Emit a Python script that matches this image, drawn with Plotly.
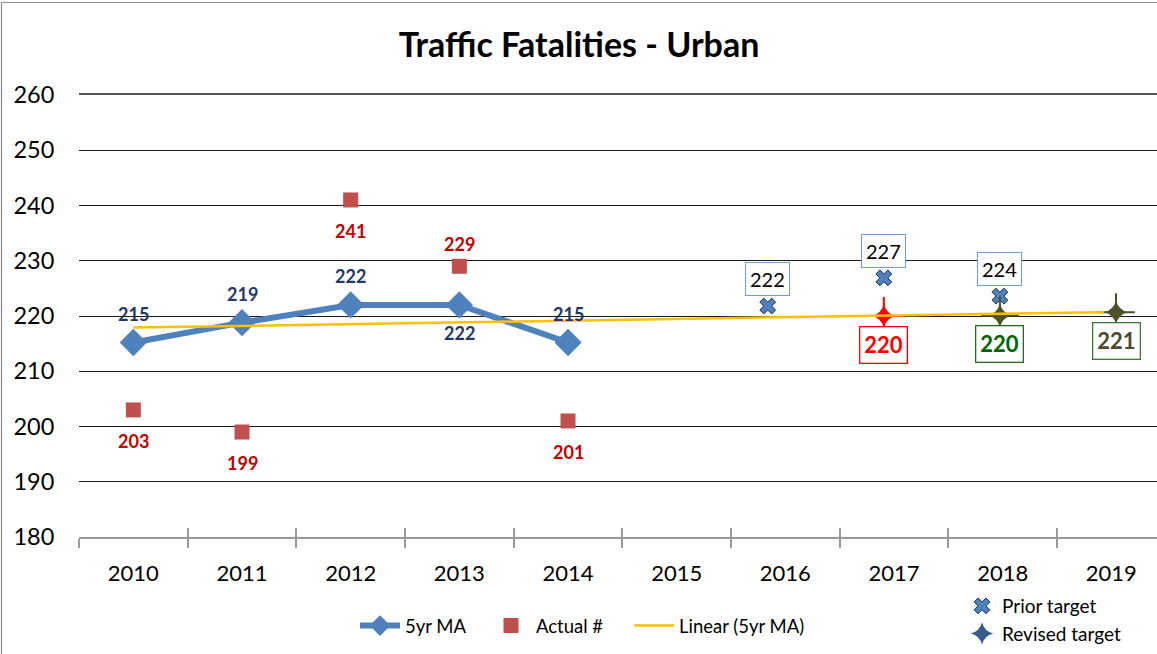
import plotly.graph_objects as go

# ---------------- data ----------------
years = [2010, 2011, 2012, 2013, 2014, 2015, 2016, 2017, 2018, 2019]
ma_years = [2010, 2011, 2012, 2013, 2014]
ma_values = [215.2, 218.8, 222.0, 222.0, 215.2]
actual_values = [203, 199, 241, 229, 201]
trend_years = [2010, 2018.93]
trend_values = [217.9, 220.7]
prior_years = [2016, 2017, 2018]
prior_values = [221.8, 226.9, 223.6]
revised_years = [2017, 2018, 2019]
revised_values = [220.0, 220.1, 220.7]

# label placement / styles
ma_label_pos = ["above", "above", "above", "below", "above"]
actual_label_pos = ["below", "below", "below", "above", "below"]
revised_marker_colors = ["#ff0000", "#4f5228", "#4f5228"]
revised_text_colors = ["#ff0000", "#006400", "#4a4a2e"]
revised_border_colors = ["#ff0000", "#1e6e1e", "#3c7a3c"]

FONT = "Lato, Carlito, 'Open Sans', sans-serif"
W, H = 1157, 654
L, T, B = 79, 95, 117
plot_w = W - L
plot_h = H - T - B
px_per_year = 108.67
x_range = [2009.5, 2009.5 + plot_w / px_per_year]
x2_px_per_year = 116.1
x2_start = 2010.068
x2_range = [x2_start, x2_start + plot_w / x2_px_per_year]
boundaries = [y - 0.5 for y in years] + [years[-1] + 0.5]


def px_x(px):
    return (px - L) / plot_w


def px_y(py):
    return (H - B - py) / plot_h


fig = go.Figure()

fig.add_trace(go.Scatter(
    x=ma_years, y=ma_values, mode="lines+markers", name="5yr MA",
    line=dict(color="#4f81bd", width=6),
    marker=dict(symbol="diamond", size=21, color="#4f81bd"),
    legend="legend", xaxis="x", yaxis="y"))

fig.add_trace(go.Scatter(
    x=ma_years, y=actual_values, mode="markers", name="Actual #",
    marker=dict(symbol="square", size=15, color="#c0504d"),
    legend="legend3", xaxis="x", yaxis="y"))

fig.add_trace(go.Scatter(
    x=trend_years, y=trend_values, mode="lines", name="Linear (5yr MA)",
    line=dict(color="#ffc000", width=2.5),
    legend="legend4", xaxis="x3", yaxis="y"))

fig.add_trace(go.Scatter(
    x=prior_years, y=prior_values, mode="markers", name="Prior target",
    marker=dict(symbol="x", size=14, color="#4f81bd",
                line=dict(color="#1f2f4a", width=1)),
    legend="legend2", xaxis="x2", yaxis="y"))

# legend entry for revised target
fig.add_trace(go.Scatter(
    x=[None], y=[None], mode="markers", name="Revised target",
    marker=dict(symbol="star-diamond", size=20, color="#3a5a8c"),
    legend="legend2", xaxis="x2", yaxis="y"))

# revised target markers: four-point sparkle (thin spikes + core)
fig.add_trace(go.Scatter(
    x=revised_years, y=revised_values, mode="markers", name="Revised target",
    marker=dict(symbol="cross-thin", size=27, color=revised_marker_colors,
                line=dict(color=revised_marker_colors, width=2)),
    showlegend=False, xaxis="x2", yaxis="y"))
fig.add_trace(go.Scatter(
    x=revised_years, y=revised_values, mode="markers", name="Revised target",
    marker=dict(symbol="star-diamond", size=17, color=revised_marker_colors),
    showlegend=False, xaxis="x2", yaxis="y"))

annotations = []
for xv, yv, pos in zip(ma_years, ma_values, ma_label_pos):
    annotations.append(dict(
        x=xv, y=yv, xref="x", yref="y", text=f"{yv:.0f}", showarrow=False,
        yshift=29 if pos == "above" else -28,
        font=dict(family=FONT, size=18, color="#1f3864", weight="bold")))
for xv, yv, pos in zip(ma_years, actual_values, actual_label_pos):
    annotations.append(dict(
        x=xv, y=yv, xref="x", yref="y", text=f"{yv:.0f}", showarrow=False,
        yshift=22 if pos == "above" else -31,
        font=dict(family=FONT, size=18, color="#c00000", weight="bold")))
for xv, yv in zip(prior_years, prior_values):
    annotations.append(dict(
        x=xv, y=yv, xref="x2", yref="y", text=f"{yv:.0f}", showarrow=False,
        yshift=27, bordercolor="#6f9fd8", borderwidth=1, borderpad=4,
        bgcolor="white",
        font=dict(family=FONT, size=20, color="#000000")))
for xv, yv, tc, bc in zip(revised_years, revised_values,
                          revised_text_colors, revised_border_colors):
    annotations.append(dict(
        x=xv, y=yv, xref="x2", yref="y", text=f"{yv:.0f}", showarrow=False,
        yshift=-29, bordercolor=bc, borderwidth=1.3, borderpad=4,
        bgcolor="white",
        font=dict(family=FONT, size=22, color=tc, weight="bold")))

legend_common = dict(orientation="h", xanchor="left", yanchor="middle",
                     y=px_y(626), bgcolor="rgba(0,0,0,0)", itemwidth=40,
                     font=dict(family=FONT, size=18.5, color="#000000"))

fig.update_layout(
    width=W, height=H,
    margin=dict(l=L, r=0, t=T, b=B, autoexpand=False),
    paper_bgcolor="white", plot_bgcolor="white",
    font=dict(family=FONT, color="#000000"),
    title=dict(text="Traffic Fatalities - Urban", x=(579 / W), xref="container",
               y=1 - 45 / H, yanchor="middle", xanchor="center",
               font=dict(family=FONT, size=34, color="#000000", weight="bold")),
    xaxis=dict(range=x_range, tickmode="array", tickvals=years,
               ticktext=[str(y) for y in years],
               ticks="outside", ticklen=16, tickcolor="rgba(0,0,0,0)",
               tickfont=dict(family=FONT, size=22, color="#000000"),
               showgrid=False, zeroline=False,
               showline=True, linecolor="#9a9a9a", linewidth=2,
               minor=dict(tickmode="array", tickvals=boundaries,
                          ticks="outside", ticklen=9, tickcolor="#9a9a9a",
                          tickwidth=1.5, showgrid=False),
               fixedrange=True),
    xaxis2=dict(range=x2_range, overlaying="x", anchor="y", side="top",
                showline=True, linecolor="#555555", linewidth=1.5,
                showticklabels=False, ticks="", showgrid=False,
                zeroline=False, fixedrange=True),
    xaxis3=dict(range=x_range, overlaying="x", anchor="y",
                tickmode="array", tickvals=boundaries, ticks="inside",
                ticklen=9, tickcolor="#9a9a9a", tickwidth=1.5,
                showticklabels=False, showgrid=False, zeroline=False,
                showline=False, fixedrange=True),
    yaxis=dict(range=[180, 260], tickmode="linear", tick0=180, dtick=10,
               ticks="outside", ticklen=19, tickcolor="rgba(0,0,0,0)",
               tickfont=dict(family=FONT, size=23.5, color="#000000"),
               showgrid=True, gridcolor="#1a1a1a", gridwidth=1,
               zeroline=False, showline=False, fixedrange=True),
    legend=dict(legend_common, x=px_x(355)),
    legend3=dict(legend_common, x=px_x(486)),
    legend4=dict(legend_common, x=px_x(629)),
    legend2=dict(orientation="v", x=px_x(962), xanchor="left",
                 y=px_y(620), yanchor="middle",
                 font=dict(family=FONT, size=19, color="#000000"),
                 bgcolor="rgba(0,0,0,0)", tracegroupgap=0, itemwidth=30),
    annotations=annotations,
    shapes=[dict(type="rect", xref="paper", yref="paper",
                 x0=px_x(1.5), x1=1.05,
                 y0=-0.5, y1=px_y(2.5),
                 line=dict(color="#8c8c8c", width=1.2), layer="below")],
)

fig.write_html(
    "out.html",
    config={"displayModeBar": False},
    post_script="document.body.style.margin='0';"
                "document.body.style.overflow='hidden';")
